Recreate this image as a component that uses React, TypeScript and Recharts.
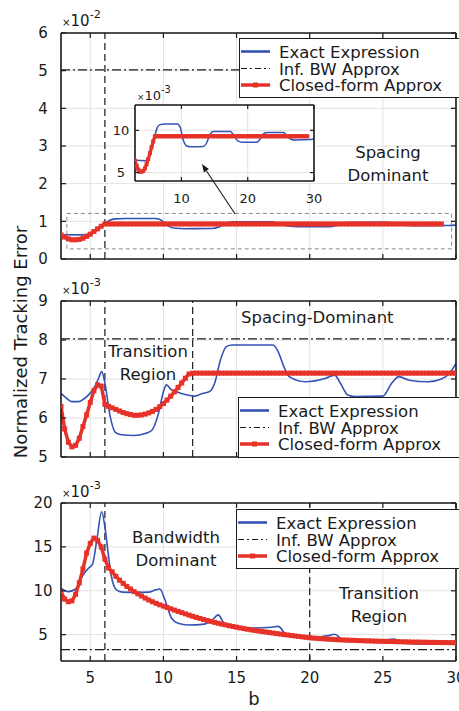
import React from "react";
import {
  LineChart,
  Line,
  XAxis,
  YAxis,
  CartesianGrid,
  ReferenceLine,
  ReferenceArea,
} from "recharts";

const INK = "#1a1a1a";
const BLUE = "#3552b5";
const RED = "#e63228";
const GRID = "#e2e2e2";
const FONT = "'DejaVu Sans', sans-serif";

const SERIES_NAMES = ["Exact Expression", "Inf. BW Approx", "Closed-form Approx"];

// b values where the closed-form approx was sampled (square markers)
const B_GRID = [
  3, 3.25, 3.5, 3.75, 4, 4.25, 4.5, 4.75, 5, 5.25, 5.5, 5.75, 6, 6.25, 6.5, 6.75,
  7, 7.25, 7.5, 7.75, 8, 8.25, 8.5, 8.75, 9, 9.25, 9.5, 9.75, 10, 10.25, 10.5, 10.75,
  11, 11.25, 11.5, 11.75, 12, 12.25, 12.5, 12.75, 13, 13.25, 13.5, 13.75, 14, 14.25, 14.5, 14.75,
  15, 15.25, 15.5, 15.75, 16, 16.25, 16.5, 16.75, 17, 17.25, 17.5, 17.75, 18, 18.25, 18.5, 18.75,
  19, 19.25, 19.5, 19.75, 20, 20.25, 20.5, 20.75, 21, 21.25, 21.5, 21.75, 22, 22.25, 22.5, 22.75,
  23, 23.25, 23.5, 23.75, 24, 24.25, 24.5, 24.75, 25, 25.25, 25.5, 25.75, 26, 26.25, 26.5, 26.75,
  27, 27.25, 27.5, 27.75, 28, 28.25, 28.5, 28.75, 29, 29.25, 29.5, 29.75, 30,
];

const X_TICKS = [5, 10, 15, 20, 25, 30];
const INSET_X_TICKS = [10, 20, 30];

// ---- panel 1 (x10^-2) ----
const P1_Y_TICKS = [0, 1, 2, 3, 4, 5, 6];
const P1_INF_BW = 5.02;
const P1_EXACT_B = [3, 4.5, 4.9, 5.3, 5.7, 6.0, 6.3, 6.7, 7.5, 9.4, 9.8, 10.3, 10.8, 11.5, 13.3, 13.8, 14.3, 14.8, 17.4, 17.9, 18.5, 19.2, 21.4, 21.9, 22.5, 23, 25.4, 25.9, 26.5, 27.2, 29.5, 30];
const P1_EXACT_V = [0.645, 0.64, 0.66, 0.73, 0.85, 0.94, 1.02, 1.065, 1.075, 1.075, 1.04, 0.88, 0.815, 0.805, 0.81, 0.85, 0.95, 0.985, 0.985, 0.94, 0.875, 0.86, 0.86, 0.9, 0.965, 0.975, 0.975, 0.935, 0.895, 0.885, 0.89, 0.9];
const P1_CLOSED = [
  0.64, 0.58, 0.535, 0.51,
  0.51, 0.52, 0.55, 0.6,
  0.66, 0.73, 0.8, 0.87,
  0.93, 0.93, 0.93, 0.93,
  0.93, 0.93, 0.93, 0.93,
  0.93, 0.93, 0.93, 0.93,
  0.93, 0.93, 0.93, 0.93,
  0.93, 0.93, 0.93, 0.93,
  0.93, 0.93, 0.93, 0.93,
  0.93, 0.93, 0.93, 0.93,
  0.93, 0.93, 0.93, 0.93,
  0.93, 0.93, 0.93, 0.93,
  0.93, 0.93, 0.93, 0.93,
  0.93, 0.93, 0.93, 0.93,
  0.93, 0.93, 0.93, 0.93,
  0.93, 0.93, 0.93, 0.93,
  0.93, 0.93, 0.93, 0.93,
  0.93, 0.93, 0.93, 0.93,
  0.93, 0.93, 0.93, 0.93,
  0.93, 0.93, 0.93, 0.93,
  0.93, 0.93, 0.93, 0.93,
  0.93, 0.93, 0.93, 0.93,
  0.93, 0.93, 0.93, 0.93,
  0.93, 0.93, 0.93, 0.93,
  0.93, 0.93, 0.93, 0.93,
  0.93, 0.93, 0.93, 0.93,
  0.93,
];
const ZOOM_BOX = { b1: 3.4, b2: 29.7, v1: 0.27, v2: 1.21 };
const INSET_Y_TICKS = [0.5, 1.0];
const ARROW_FROM = { x: 18.1, y: 0.01 };
const ARROW_TO = { x: 13.1, y: 0.6 };

// ---- panel 2 (x10^-3) ----
const P2_Y_TICKS = [5, 6, 7, 8, 9];
const P2_INF_BW = 8.03;
const P2_EXACT_B = [3, 3.4, 3.75, 4.2, 4.6, 4.9, 5.3, 5.55, 5.78, 6.0, 6.35, 6.7, 7.15, 8.0, 8.75, 9.2, 9.65, 10.0, 10.2, 10.55, 10.9, 11.3, 12.15, 12.6, 13.2, 13.5, 13.9, 14.3, 14.7, 17.5, 17.9, 18.25, 18.6, 19.7, 21.1, 21.7, 22.1, 22.6, 23.1, 25.0, 25.6, 26.1, 26.8, 28.1, 29.0, 29.5, 30];
const P2_EXACT_V = [6.63, 6.5, 6.42, 6.42, 6.5, 6.6, 6.8, 7.0, 7.19, 6.9, 6.06, 5.64, 5.57, 5.55, 5.6, 5.68, 6.1, 6.67, 6.85, 6.72, 6.67, 6.62, 6.56, 6.62, 6.69, 6.89, 7.49, 7.83, 7.87, 7.87, 7.65, 7.3, 7.06, 6.93, 7.02, 7.1, 6.89, 6.59, 6.55, 6.56, 6.89, 7.06, 6.97, 6.93, 7.0, 7.12, 7.4];
const P2_CLOSED = [
  6.3, 5.72, 5.38, 5.26,
  5.3, 5.48, 5.78, 6.08,
  6.4, 6.7, 6.85, 6.82,
  6.35, 6.3, 6.26, 6.22,
  6.18, 6.14, 6.11, 6.09,
  6.07, 6.07, 6.08, 6.1,
  6.13, 6.17, 6.22, 6.29,
  6.37, 6.46, 6.56, 6.67,
  6.78, 6.9, 7.02, 7.13,
  7.15, 7.15, 7.15, 7.15,
  7.15, 7.15, 7.15, 7.15,
  7.15, 7.15, 7.15, 7.15,
  7.15, 7.15, 7.15, 7.15,
  7.15, 7.15, 7.15, 7.15,
  7.15, 7.15, 7.15, 7.15,
  7.15, 7.15, 7.15, 7.15,
  7.15, 7.15, 7.15, 7.15,
  7.15, 7.15, 7.15, 7.15,
  7.15, 7.15, 7.15, 7.15,
  7.15, 7.15, 7.15, 7.15,
  7.15, 7.15, 7.15, 7.15,
  7.15, 7.15, 7.15, 7.15,
  7.15, 7.15, 7.15, 7.15,
  7.15, 7.15, 7.15, 7.15,
  7.15, 7.15, 7.15, 7.15,
  7.15, 7.15, 7.15, 7.15,
  7.15, 7.15, 7.15, 7.15,
  7.15,
];

// ---- panel 3 (x10^-3) ----
const P3_Y_TICKS = [5, 10, 15, 20];
const P3_INF_BW = 3.3;
const P3_EXACT_B = [3, 3.5, 4, 4.5, 4.9, 5.15, 5.45, 5.78, 6.0, 6.23, 6.45, 6.8, 7.2, 8, 9, 9.45, 9.75, 10.1, 10.55, 11, 11.7, 12.8, 13.3, 13.75, 14.1, 14.5, 15.2, 15.85, 17.4, 17.85, 18.35, 19, 20, 21.3, 21.7, 22.2, 23.1, 25.4, 25.8, 26.3, 27.7, 30];
const P3_EXACT_V = [10.3, 9.9, 10.2, 11.8, 12.6, 13.0, 15.8, 19.0, 17.3, 14.2, 11.6, 10.1, 9.85, 9.8, 9.85, 10.1, 10.2, 9.0, 6.9, 6.3, 6.1, 6.2, 6.6, 7.25, 6.4, 6.0, 5.8, 5.75, 5.85, 5.95, 5.1, 4.8, 4.6, 4.9, 5.05, 4.5, 4.3, 4.45, 4.5, 4.05, 3.95, 4.05];
const P3_CLOSED = [
  9.85, 9.05, 8.75, 8.85,
  9.6, 10.9, 12.5, 14.3,
  15.4, 16.0, 15.75, 15.0,
  13.6, 12.6, 12.15, 11.65,
  11.2, 10.85, 10.5, 10.2,
  9.9, 9.65, 9.4, 9.17,
  8.95, 8.75, 8.57, 8.4,
  8.25, 8.1, 7.95, 7.8,
  7.65, 7.51, 7.37, 7.23,
  7.1, 6.97, 6.85, 6.73,
  6.62, 6.51, 6.4, 6.3,
  6.2, 6.11, 6.02, 5.93,
  5.85, 5.77, 5.69, 5.62,
  5.55, 5.48, 5.42, 5.36,
  5.3, 5.24, 5.18, 5.12,
  5.07, 5.01, 4.96, 4.9,
  4.85, 4.8, 4.75, 4.7,
  4.65, 4.61, 4.58, 4.55,
  4.52, 4.49, 4.47, 4.44,
  4.42, 4.4, 4.38, 4.36,
  4.35, 4.33, 4.32, 4.3,
  4.29, 4.28, 4.26, 4.25,
  4.24, 4.23, 4.22, 4.21,
  4.2, 4.19, 4.18, 4.17,
  4.16, 4.15, 4.15, 4.14,
  4.13, 4.12, 4.12, 4.11,
  4.1, 4.1, 4.09, 4.09,
  4.08,
];

type Pt = { b: number; v: number };
const zip = (b: number[], v: number[]): Pt[] => b.map((x, i) => ({ b: x, v: v[i] }));

type Side = "bottom" | "left" | "top" | "right";
type TickLabel = { fontSize: number; offset: number; format?: (v: number) => string };

// MATLAB style: tick marks point inward, labels outside
function tickRenderer(side: Side, label?: TickLabel, len = 5) {
  return (props: any) => {
    const { x, y, payload, index } = props;
    const v = payload?.value;
    let line;
    if (side === "bottom") line = <line x1={x} y1={y} x2={x} y2={y - len} />;
    else if (side === "top") line = <line x1={x} y1={y} x2={x} y2={y + len} />;
    else if (side === "left") line = <line x1={x} y1={y} x2={x + len} y2={y} />;
    else line = <line x1={x} y1={y} x2={x - len} y2={y} />;
    let text = null;
    if (label) {
      const s = label.format ? label.format(v) : String(v);
      const common = { fontSize: label.fontSize, fontFamily: FONT, fill: INK, textAnchor: "middle" as const };
      if (side === "bottom") text = <text x={x} y={y + label.offset} {...common}>{s}</text>;
      if (side === "left")
        text = <text x={x - label.offset} y={y + label.fontSize * 0.36} {...common}>{s}</text>;
    }
    return (
      <g key={`${side}-${index}`}>
        <g stroke={INK} strokeWidth={1.2}>{line}</g>
        {text}
      </g>
    );
  };
}

const squareDot = (size: number) => (p: any) => {
  const { cx, cy, index } = p;
  if (cx == null || cy == null) return <g key={`d${index}`} />;
  return <rect key={`d${index}`} x={cx - size / 2} y={cy - size / 2} width={size} height={size} fill={RED} />;
};

const arrowShape = (p: any) => {
  const { x1, y1, x2, y2 } = p;
  const a = Math.atan2(y2 - y1, x2 - x1);
  const L = 8;
  const W = 3;
  const bx = x2 - L * Math.cos(a);
  const by = y2 - L * Math.sin(a);
  const px = -Math.sin(a) * W;
  const py = Math.cos(a) * W;
  return (
    <g>
      <line x1={x1} y1={y1} x2={bx} y2={by} stroke={INK} strokeWidth={1.1} />
      <path d={`M${x2},${y2} L${bx + px},${by + py} L${bx - px},${by - py} Z`} fill={INK} />
    </g>
  );
};

const axisLine = { stroke: INK, strokeWidth: 1.6 };

function frameAxes(
  xDomain: [number, number],
  xTicks: number[],
  yDomain: [number, number],
  yTicks: number[],
  xLabel?: TickLabel,
  yLabel?: TickLabel,
  len = 5
) {
  return [
    <XAxis
      key="xb"
      dataKey="b"
      type="number"
      domain={xDomain}
      ticks={xTicks}
      interval={0}
      allowDataOverflow
      mirror
      tickSize={0}
      tickMargin={0}
      tickLine={false}
      axisLine={axisLine}
      tick={tickRenderer("bottom", xLabel, len)}
    />,
    <XAxis
      key="xt"
      xAxisId="top"
      orientation="top"
      dataKey="b"
      type="number"
      domain={xDomain}
      ticks={xTicks}
      interval={0}
      allowDataOverflow
      mirror
      tickSize={0}
      tickMargin={0}
      tickLine={false}
      axisLine={axisLine}
      tick={tickRenderer("top", undefined, len)}
    />,
    <YAxis
      key="yl"
      type="number"
      domain={yDomain}
      ticks={yTicks}
      interval={0}
      allowDataOverflow
      mirror
      tickSize={0}
      tickMargin={0}
      tickLine={false}
      axisLine={axisLine}
      tick={tickRenderer("left", yLabel, len)}
    />,
    <YAxis
      key="yr"
      yAxisId="right"
      orientation="right"
      type="number"
      domain={yDomain}
      ticks={yTicks}
      interval={0}
      allowDataOverflow
      mirror
      tickSize={0}
      tickMargin={0}
      tickLine={false}
      axisLine={axisLine}
      tick={tickRenderer("right", undefined, len)}
    />,
  ];
}

type PanelProps = {
  top: number;
  height: number;
  mTop: number;
  mBottom: number;
  yDomain: [number, number];
  yTicks: number[];
  exact: Pt[];
  closed: Pt[];
  infBw: number;
  dashedX: number[];
  xLabels: boolean;
  zoomBox?: boolean;
};

function MainPanel(p: PanelProps) {
  return (
    <div style={{ position: "absolute", left: 0, top: p.top }}>
      <LineChart width={459} height={p.height} margin={{ top: p.mTop, right: 3, bottom: p.mBottom, left: 61 }}>
        <CartesianGrid stroke={GRID} strokeWidth={1} />
        {frameAxes(
          [3, 30],
          X_TICKS,
          p.yDomain,
          p.yTicks,
          p.xLabels ? { fontSize: 15, offset: 22 } : undefined,
          { fontSize: 15, offset: 18 }
        )}
        {p.zoomBox && (
          <ReferenceArea
            x1={ZOOM_BOX.b1}
            x2={ZOOM_BOX.b2}
            y1={ZOOM_BOX.v1}
            y2={ZOOM_BOX.v2}
            fill="none"
            stroke="#8a8a8a"
            strokeDasharray="4 3"
            strokeWidth={1}
          />
        )}
        {p.dashedX.map((x) => (
          <ReferenceLine key={`vx${x}`} x={x} stroke={INK} strokeDasharray="7 4" strokeWidth={1.2} />
        ))}
        <ReferenceLine y={p.infBw} stroke={INK} strokeDasharray="9 3 2 3" strokeWidth={1.1} />
        <Line
          data={p.exact}
          dataKey="v"
          type="monotone"
          stroke={BLUE}
          strokeWidth={1.6}
          dot={false}
          isAnimationActive={false}
        />
        <Line
          data={p.closed}
          dataKey="v"
          type="linear"
          stroke={RED}
          strokeWidth={3.5}
          dot={squareDot(5)}
          isAnimationActive={false}
        />
      </LineChart>
    </div>
  );
}

function Inset({ exact, closed }: { exact: Pt[]; closed: Pt[] }) {
  return (
    <div style={{ position: "absolute", left: 110, top: 80 }}>
      <LineChart width={215} height={140} margin={{ top: 25, right: 11, bottom: 39, left: 25 }}>
        <CartesianGrid stroke={GRID} strokeWidth={1} fill="#fff" fillOpacity={1} />
        {frameAxes(
          [3, 30],
          INSET_X_TICKS,
          [0.4, 1.3],
          INSET_Y_TICKS,
          { fontSize: 13, offset: 22 },
          { fontSize: 13, offset: 14, format: (v) => String(Math.round(v * 10)) },
          4
        )}
        <Line
          data={exact}
          dataKey="v"
          type="monotone"
          stroke={BLUE}
          strokeWidth={1.5}
          dot={false}
          isAnimationActive={false}
        />
        <Line
          data={closed}
          dataKey="v"
          type="linear"
          stroke={RED}
          strokeWidth={3.2}
          dot={squareDot(4)}
          isAnimationActive={false}
        />
        <ReferenceLine segment={[ARROW_FROM, ARROW_TO]} ifOverflow="visible" shape={arrowShape} />
      </LineChart>
    </div>
  );
}

function LegendBox({ left, top, height = 60 }: { left: number; top: number; height?: number }) {
  const w = 460 - left;
  const rows = [12.5, 29.5, 46];
  return (
    <div
      style={{
        position: "absolute",
        left,
        top,
        width: w,
        height,
        background: "#fff",
        border: `1.3px solid ${INK}`,
        boxSizing: "border-box",
      }}
    >
      <svg width={w} height={height - 3} style={{ display: "block" }}>
        <line x1={1} x2={30} y1={rows[0]} y2={rows[0]} stroke={BLUE} strokeWidth={2.6} />
        <line x1={1} x2={30} y1={rows[1]} y2={rows[1]} stroke={INK} strokeDasharray="6 3 2 3" strokeWidth={1} />
        <line x1={1} x2={30} y1={rows[2]} y2={rows[2]} stroke={RED} strokeWidth={3.5} />
        <rect x={13} y={rows[2] - 2.5} width={5} height={5} fill={RED} />
        {SERIES_NAMES.map((n, i) => (
          <text key={n} x={39} y={rows[i] + 6} fontSize={16.5} fontFamily={FONT} fill={INK}>
            {n}
          </text>
        ))}
      </svg>
    </div>
  );
}

function Exp({ x, y, exp, size = 15 }: { x: number; y: number; exp: string; size?: number }) {
  return (
    <text x={x} y={y} fontFamily={FONT} fill={INK}>
      <tspan fontSize={size * 0.68}>×</tspan>
      <tspan fontSize={size}>10</tspan>
      <tspan fontSize={size * 0.75} dy={-size * 0.55}>
        {exp}
      </tspan>
    </text>
  );
}

const NOTES = [
  { lines: ["Spacing", "Dominant"], x: 388, y: 158, anchor: "middle" },
  { lines: ["Spacing-Dominant"], x: 241, y: 323, anchor: "start" },
  { lines: ["Transition", "Region"], x: 148, y: 357, anchor: "middle" },
  { lines: ["Bandwidth", "Dominant"], x: 176, y: 543, anchor: "middle" },
  { lines: ["Transition", "Region"], x: 379, y: 599, anchor: "middle" },
];

export default function App() {
  const p1Exact = zip(P1_EXACT_B, P1_EXACT_V);
  const p1Closed = zip(B_GRID, P1_CLOSED);
  const p2Exact = zip(P2_EXACT_B, P2_EXACT_V);
  const p2Closed = zip(B_GRID, P2_CLOSED);
  const p3Exact = zip(P3_EXACT_B, P3_EXACT_V);
  const p3Closed = zip(B_GRID, P3_CLOSED);

  return (
    <div
      style={{
        position: "relative",
        width: 459,
        height: 711,
        background: "#fff",
        overflow: "hidden",
        fontFamily: FONT,
      }}
    >
      <style>{`body{margin:0}`}</style>
      <MainPanel
        top={0}
        height={270}
        mTop={33}
        mBottom={11}
        yDomain={[0, 6]}
        yTicks={P1_Y_TICKS}
        exact={p1Exact}
        closed={p1Closed}
        infBw={P1_INF_BW}
        dashedX={[6]}
        xLabels={false}
        zoomBox
      />
      <MainPanel
        top={270}
        height={200}
        mTop={31}
        mBottom={13}
        yDomain={[5, 9]}
        yTicks={P2_Y_TICKS}
        exact={p2Exact}
        closed={p2Closed}
        infBw={P2_INF_BW}
        dashedX={[6, 12]}
        xLabels={false}
      />
      <MainPanel
        top={470}
        height={241}
        mTop={33}
        mBottom={50}
        yDomain={[2, 20]}
        yTicks={P3_Y_TICKS}
        exact={p3Exact}
        closed={p3Closed}
        infBw={P3_INF_BW}
        dashedX={[6, 20]}
        xLabels
      />
      <Inset exact={p1Exact} closed={p1Closed} />
      <LegendBox left={239} top={38} />
      <LegendBox left={238} top={397} height={61} />
      <LegendBox left={236} top={509} />
      <svg
        width={459}
        height={711}
        style={{ position: "absolute", left: 0, top: 0, pointerEvents: "none" }}
      >
        <text
          transform="translate(27,342) rotate(-90)"
          textAnchor="middle"
          fontSize={18}
          fontFamily={FONT}
          fill={INK}
        >
          Normalized Tracking Error
        </text>
        <text x={254} y={705} textAnchor="middle" fontSize={18} fontFamily={FONT} fill={INK}>
          b
        </text>
        <Exp x={62} y={26} exp="-2" />
        <Exp x={62} y={294} exp="-3" />
        <Exp x={62} y={497} exp="-3" />
        <Exp x={137} y={100} exp="-3" size={13} />
        {NOTES.map((n, i) => (
          <text
            key={i}
            x={n.x}
            y={n.y}
            textAnchor={n.anchor as any}
            fontSize={16.5}
            fontFamily={FONT}
            fill={INK}
          >
            {n.lines.map((l, j) => (
              <tspan key={j} x={n.x} dy={j === 0 ? 0 : 22.6}>
                {l}
              </tspan>
            ))}
          </text>
        ))}
      </svg>
    </div>
  );
}
